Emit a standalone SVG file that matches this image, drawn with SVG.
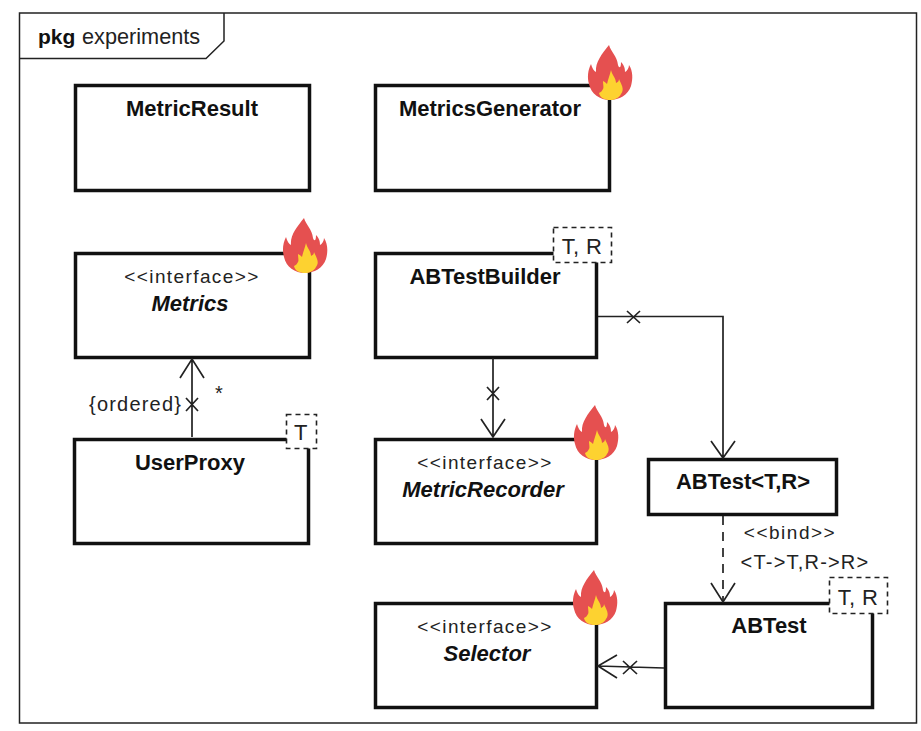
<svg xmlns="http://www.w3.org/2000/svg" width="921" height="731" viewBox="0 0 921 731">
<style>
text{font-family:"Liberation Sans",Arial,sans-serif;fill:#222;font-size:19px}
.b{font-weight:700;fill:#111;text-anchor:middle;font-size:22px}
.bi{font-weight:700;font-style:italic;fill:#111;text-anchor:middle;font-size:22px}
.s{text-anchor:middle;font-size:19px;letter-spacing:1.4px}
.t{text-anchor:middle;font-size:22px;letter-spacing:.4px}
.box{fill:#fff;stroke:#111;stroke-width:3.5}
.tpl{fill:#fff;stroke:#222;stroke-width:1.6;stroke-dasharray:5 4}
.line{fill:none;stroke:#222;stroke-width:1.7}
.dash{stroke-dasharray:9 7}
</style>
<defs>
<g id="flame">
<path fill="#e55050" d="M21 0C23 7 29 11 30 20C31 23 33 24 33 17C37 21 37 25 37 27C39 26 41 23 41 20C45 26 45 34 43 41C40 50 31 55 22 55C12 55 3 49 1 39C-1 32 0 25 3 19C4 23 6 26 8 27C7 17 14 9 21 0Z"/>
<path fill="#fdd230" d="M23 25C24 30 28 33 28 38C30 37 31 36 31 34C33 39 37 44 33 49C31 53 26 55 22 55C17 55 12 53 11 48C13 47 14 46 15 44C16 43 15 39 15 36C17 37 18 38 19 39C20 34 22 30 23 25Z"/>
</g>
</defs>
<g id="frame">
<rect x="19.500" y="13" width="897" height="710" fill="#fff" stroke="#222" stroke-width="1.500"/>
<path d="M19.500 58.500H206L224 41V13" fill="none" stroke="#222" stroke-width="1.500"/>
<text x="38" y="44" style="font-weight:700;fill:#111;font-size:21px">pkg</text>
<text x="82" y="44" style="font-size:21.700px">experiments</text>
</g>
<g id="metric-result">
<rect class="box" x="75.500" y="85.500" width="234" height="105"/>
<text class="b" x="192" y="116">MetricResult</text>
</g>
<g id="metrics-generator">
<rect class="box" x="375.500" y="85.500" width="234" height="105"/>
<text class="b" x="490" y="116">MetricsGenerator</text>
<use href="#flame" x="588" y="45"/>
</g>
<g id="metrics">
<rect class="box" x="75.500" y="253.500" width="234" height="104"/>
<text class="s" x="192" y="283">&lt;&lt;interface&gt;&gt;</text>
<text class="bi" x="190" y="311">Metrics</text>
<use href="#flame" x="283" y="218"/>
</g>
<g id="user-proxy">
<rect class="box" x="74.500" y="439.500" width="234" height="104"/>
<text class="b" x="190" y="470">UserProxy</text>
<rect class="tpl" x="286.500" y="414.500" width="30" height="34"/>
<text class="t" x="301" y="440">T</text>
</g>
<g id="ab-test-builder">
<rect class="box" x="375.500" y="253.500" width="221" height="104"/>
<text class="b" x="485" y="284">ABTestBuilder</text>
<rect class="tpl" x="553.500" y="227.500" width="58" height="35"/>
<text class="t" x="582" y="254">T, R</text>
</g>
<g id="metric-recorder">
<rect class="box" x="375.500" y="439.500" width="221" height="104"/>
<text class="s" x="485" y="469">&lt;&lt;interface&gt;&gt;</text>
<text class="bi" x="483" y="497">MetricRecorder</text>
<use href="#flame" x="574" y="405"/>
</g>
<g id="ab-test-bound">
<rect class="box" x="648.500" y="459.500" width="188" height="55"/>
<text class="b" x="743" y="489">ABTest&lt;T,R&gt;</text>
</g>
<g id="selector">
<rect class="box" x="375.500" y="603.500" width="221" height="104"/>
<text class="s" x="485" y="633">&lt;&lt;interface&gt;&gt;</text>
<text class="bi" x="487" y="661">Selector</text>
<use href="#flame" x="573" y="570"/>
</g>
<g id="ab-test">
<rect class="box" x="665.500" y="603.500" width="207" height="104"/>
<text class="b" x="769" y="633">ABTest</text>
<rect class="tpl" x="829.500" y="577.500" width="58" height="36"/>
<text class="t" x="858" y="605">T, R</text>
</g>
<g id="connectors">
<path class="line" d="M192 437V359M180 378L192 359L204 378M186 398L198 411M198 398L186 411"/>
<path class="line" d="M493 358V437M481 419L493 437L505 419M487 387L499 400M499 387L487 400"/>
<path class="line" d="M598 316.500H723V458M711 441L723 458L735 441M627 311L640 323M640 311L627 323"/>
<path class="line dash" d="M723 516V602"/>
<path class="line" d="M711 583L723 602L735 583"/>
<path class="line" d="M664 668L598 666M617 655L598 666L617 678M623 661L637 674M637 661L623 674"/>
</g>
<g id="labels">
<text x="89" y="411" style="font-size:20px;letter-spacing:1.200px">{ordered}</text>
<text x="215" y="400" style="font-size:20px">*</text>
<text x="790" y="539" style="text-anchor:middle;font-size:19px;letter-spacing:1.500px">&lt;&lt;bind&gt;&gt;</text>
<text x="805" y="569" style="text-anchor:middle;font-size:20px;letter-spacing:1.200px">&lt;T-&gt;T,R-&gt;R&gt;</text>
</g>
</svg>
